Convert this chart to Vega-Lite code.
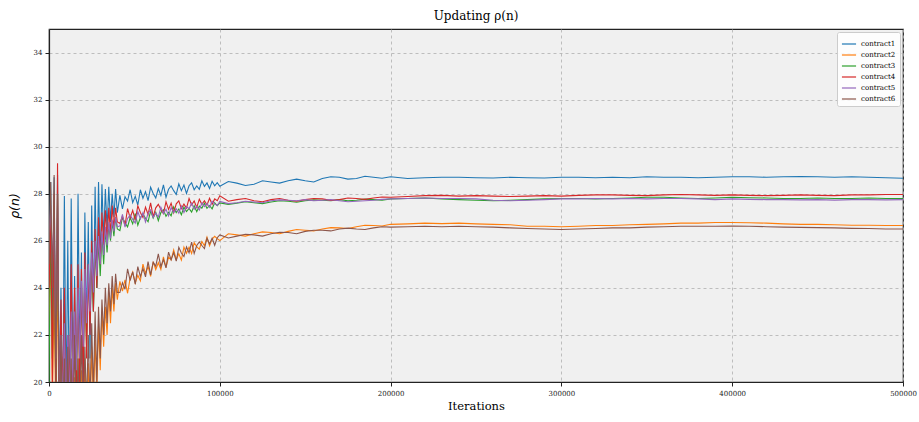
{
  "$schema": "https://vega.github.io/schema/vega-lite/v6.json",
  "width": 854,
  "height": 353,
  "autosize": "none",
  "padding": {"left": 49, "top": 29, "right": 16, "bottom": 40},
  "background": "white",
  "title": {"text": "Updating ρ(n)", "font": "DejaVu Serif", "fontSize": 12, "fontWeight": "normal", "color": "#000", "offset": 6, "anchor": "middle"},
  "config": {
    "view": {"fill": "#f0f0f0", "stroke": "#222", "strokeWidth": 1.2},
    "axis": {"labelFont": "DejaVu Serif", "labelFontSize": 7, "labelColor": "#222", "titleFont": "DejaVu Serif", "titleFontSize": 11.5, "titleFontWeight": "normal", "titleColor": "#000", "gridColor": "#b0b0b0", "gridDash": [3, 3], "gridWidth": 0.8, "domainColor": "#222", "tickColor": "#222", "tickSize": 4, "domainWidth": 1.2},
    "legend": {"labelFont": "DejaVu Serif", "labelFontSize": 7, "labelColor": "#000"}
  },
  "data": {"values": [
    {"x":0,"contract1":25,"contract2":22,"contract3":20,"contract4":24,"contract5":26,"contract6":25},
    {"x":1000,"contract1":28.5,"contract2":26,"contract3":27,"contract4":27,"contract5":27.5,"contract6":28.5},
    {"x":2000,"contract1":22,"contract2":19,"contract3":21,"contract4":20,"contract5":25,"contract6":24},
    {"x":3000,"contract1":28.7,"contract2":24,"contract3":27.5,"contract4":28,"contract5":27,"contract6":28.8},
    {"x":4000,"contract1":20,"contract2":18,"contract3":19,"contract4":19,"contract5":21,"contract6":20},
    {"x":5000,"contract1":28.8,"contract2":25,"contract3":28,"contract4":29.3,"contract5":27.5,"contract6":28},
    {"x":6000,"contract1":19,"contract2":17,"contract3":18,"contract4":18,"contract5":19,"contract6":18},
    {"x":7000,"contract1":24,"contract2":21,"contract3":22,"contract4":23.5,"contract5":22,"contract6":22},
    {"x":8000,"contract1":18,"contract2":17,"contract3":19,"contract4":19,"contract5":19,"contract6":18},
    {"x":9000,"contract1":27.9,"contract2":20.5,"contract3":23,"contract4":24,"contract5":22.5,"contract6":21},
    {"x":10000,"contract1":19,"contract2":16,"contract3":18,"contract4":18,"contract5":18.5,"contract6":17},
    {"x":11000,"contract1":26,"contract2":20,"contract3":21.5,"contract4":22,"contract5":22,"contract6":21.5},
    {"x":12000,"contract1":18,"contract2":17,"contract3":19,"contract4":19.5,"contract5":19,"contract6":17.5},
    {"x":13000,"contract1":27.8,"contract2":20.5,"contract3":23,"contract4":25,"contract5":23,"contract6":21},
    {"x":14000,"contract1":20,"contract2":16.5,"contract3":19.5,"contract4":19,"contract5":20,"contract6":17},
    {"x":15000,"contract1":24.5,"contract2":20.2,"contract3":22.5,"contract4":24,"contract5":23,"contract6":22},
    {"x":16000,"contract1":19,"contract2":17,"contract3":20,"contract4":20,"contract5":20.5,"contract6":18},
    {"x":17000,"contract1":28,"contract2":21,"contract3":23.5,"contract4":25,"contract5":24,"contract6":21},
    {"x":18000,"contract1":21,"contract2":17,"contract3":20.5,"contract4":19,"contract5":21,"contract6":18.5},
    {"x":19000,"contract1":25.5,"contract2":20.5,"contract3":24,"contract4":24.8,"contract5":24.3,"contract6":22},
    {"x":20000,"contract1":19,"contract2":17.5,"contract3":21,"contract4":20,"contract5":21.5,"contract6":18},
    {"x":21000,"contract1":27.2,"contract2":21,"contract3":24.5,"contract4":25.5,"contract5":24.8,"contract6":21.5},
    {"x":22000,"contract1":22,"contract2":18,"contract3":21.5,"contract4":21,"contract5":22.5,"contract6":19},
    {"x":23000,"contract1":26.8,"contract2":20.8,"contract3":25,"contract4":25,"contract5":25,"contract6":22},
    {"x":24000,"contract1":21,"contract2":18.5,"contract3":22.5,"contract4":22,"contract5":23,"contract6":19},
    {"x":25000,"contract1":27.5,"contract2":21.5,"contract3":25.2,"contract4":26,"contract5":25.5,"contract6":22.5},
    {"x":26000,"contract1":23,"contract2":19,"contract3":23,"contract4":23,"contract5":23.8,"contract6":19.5},
    {"x":27000,"contract1":28.3,"contract2":21.8,"contract3":25.8,"contract4":26.5,"contract5":26,"contract6":23},
    {"x":28000,"contract1":24,"contract2":19.5,"contract3":24,"contract4":24,"contract5":24.5,"contract6":20},
    {"x":29000,"contract1":28.5,"contract2":22.5,"contract3":26,"contract4":27,"contract5":26.2,"contract6":23.2},
    {"x":30000,"contract1":25,"contract2":20.5,"contract3":24.5,"contract4":25,"contract5":25,"contract6":21},
    {"x":31000,"contract1":28.4,"contract2":23,"contract3":26.3,"contract4":27.2,"contract5":26.4,"contract6":23.5},
    {"x":32000,"contract1":26,"contract2":21.5,"contract3":25,"contract4":25.8,"contract5":25.4,"contract6":22},
    {"x":33000,"contract1":28.2,"contract2":23.2,"contract3":26.5,"contract4":27.3,"contract5":26.6,"contract6":24},
    {"x":34000,"contract1":26.5,"contract2":22,"contract3":25.5,"contract4":26,"contract5":25.8,"contract6":22.5},
    {"x":35000,"contract1":28.3,"contract2":23.8,"contract3":26.7,"contract4":27.4,"contract5":26.8,"contract6":24.2},
    {"x":36000,"contract1":26.8,"contract2":22.5,"contract3":26,"contract4":26.3,"contract5":26.1,"contract6":23},
    {"x":37000,"contract1":28,"contract2":24,"contract3":26.8,"contract4":27.5,"contract5":26.9,"contract6":24.5},
    {"x":38000,"contract1":27,"contract2":23,"contract3":26.2,"contract4":26.5,"contract5":26.4,"contract6":23.3},
    {"x":39000,"contract1":28.2,"contract2":24.2,"contract3":27,"contract4":27.4,"contract5":27,"contract6":24.6},
    {"x":40000,"contract1":27.2,"contract2":23.5,"contract3":26.5,"contract4":26.8,"contract5":26.6,"contract6":23.8},
    {"x":41500,"contract1":27.93,"contract2":24.28,"contract3":26.43,"contract4":26.74,"contract5":26.63,"contract6":23.8},
    {"x":43000,"contract1":27.36,"contract2":23.86,"contract3":26.99,"contract4":27.05,"contract5":27.12,"contract6":24.22},
    {"x":44500,"contract1":27.87,"contract2":24.34,"contract3":26.76,"contract4":26.65,"contract5":26.58,"contract6":23.94},
    {"x":46000,"contract1":27.69,"contract2":23.77,"contract3":26.59,"contract4":27.37,"contract5":26.95,"contract6":24.81},
    {"x":47500,"contract1":28.17,"contract2":24.41,"contract3":26.98,"contract4":26.97,"contract5":27.1,"contract6":24.31},
    {"x":49000,"contract1":27.62,"contract2":24.67,"contract3":26.72,"contract4":27.29,"contract5":26.91,"contract6":24.68},
    {"x":50500,"contract1":27.89,"contract2":24.2,"contract3":27.16,"contract4":26.87,"contract5":26.75,"contract6":24.16},
    {"x":52000,"contract1":27.52,"contract2":24.54,"contract3":26.66,"contract4":27.49,"contract5":27.24,"contract6":24.9},
    {"x":53500,"contract1":28.17,"contract2":24.3,"contract3":26.99,"contract4":27.2,"contract5":26.93,"contract6":24.48},
    {"x":55000,"contract1":27.81,"contract2":25.01,"contract3":27.14,"contract4":26.99,"contract5":27.19,"contract6":24.83},
    {"x":56500,"contract1":28.09,"contract2":24.61,"contract3":26.96,"contract4":27.43,"contract5":26.8,"contract6":24.47},
    {"x":58000,"contract1":27.71,"contract2":24.92,"contract3":26.81,"contract4":27.12,"contract5":27.17,"contract6":25.12},
    {"x":59500,"contract1":28.28,"contract2":24.49,"contract3":27.26,"contract4":27.61,"contract5":27.31,"contract6":24.55},
    {"x":61000,"contract1":28.01,"contract2":25.11,"contract3":26.97,"contract4":27.02,"contract5":26.99,"contract6":25.09},
    {"x":62500,"contract1":27.82,"contract2":24.78,"contract3":27.21,"contract4":27.4,"contract5":27.18,"contract6":24.92},
    {"x":64000,"contract1":28.22,"contract2":25.07,"contract3":26.86,"contract4":27.55,"contract5":27.01,"contract6":25.44},
    {"x":65500,"contract1":27.93,"contract2":24.78,"contract3":27.2,"contract4":27.33,"contract5":27.43,"contract6":24.9},
    {"x":67000,"contract1":28.38,"contract2":25.32,"contract3":27.32,"contract4":27.16,"contract5":27.16,"contract6":25.2},
    {"x":68500,"contract1":27.85,"contract2":24.87,"contract3":27.04,"contract4":27.66,"contract5":27.34,"contract6":24.85},
    {"x":70000,"contract1":28.19,"contract2":25.31,"contract3":27.21,"contract4":27.33,"contract5":27.06,"contract6":25.52},
    {"x":71500,"contract1":28.33,"contract2":25.19,"contract3":27.06,"contract4":27.6,"contract5":27.42,"contract6":25.19},
    {"x":73000,"contract1":28.13,"contract2":25.61,"contract3":27.44,"contract4":27.19,"contract5":27.2,"contract6":25.5},
    {"x":74500,"contract1":27.97,"contract2":25.2,"contract3":27.2,"contract4":27.57,"contract5":27.36,"contract6":25.14},
    {"x":76000,"contract1":28.42,"contract2":25.45,"contract3":27.35,"contract4":27.7,"contract5":27.17,"contract6":25.72},
    {"x":77500,"contract1":28.13,"contract2":25.18,"contract3":27.11,"contract4":27.37,"contract5":27.48,"contract6":25.48},
    {"x":79000,"contract1":28.37,"contract2":25.73,"contract3":27.43,"contract4":27.56,"contract5":27.2,"contract6":25.33},
    {"x":80500,"contract1":28.01,"contract2":25.47,"contract3":27.24,"contract4":27.39,"contract5":27.45,"contract6":25.74},
    {"x":82000,"contract1":28.34,"contract2":25.73,"contract3":27.38,"contract4":27.8,"contract5":27.36,"contract6":25.49},
    {"x":83500,"contract1":28.46,"contract2":25.46,"contract3":27.22,"contract4":27.53,"contract5":27.6,"contract6":25.94},
    {"x":85000,"contract1":28.17,"contract2":25.92,"contract3":27.49,"contract4":27.69,"contract5":27.34,"contract6":25.46},
    {"x":86500,"contract1":28.33,"contract2":25.75,"contract3":27.24,"contract4":27.42,"contract5":27.47,"contract6":25.8},
    {"x":88000,"contract1":28.19,"contract2":25.64,"contract3":27.47,"contract4":27.77,"contract5":27.31,"contract6":25.95},
    {"x":89500,"contract1":28.55,"contract2":25.97,"contract3":27.39,"contract4":27.55,"contract5":27.61,"contract6":25.8},
    {"x":91000,"contract1":28.31,"contract2":25.79,"contract3":27.6,"contract4":27.7,"contract5":27.45,"contract6":25.67},
    {"x":92500,"contract1":28.46,"contract2":26.15,"contract3":27.38,"contract4":27.52,"contract5":27.59,"contract6":26.11},
    {"x":94000,"contract1":28.22,"contract2":25.79,"contract3":27.5,"contract4":27.81,"contract5":27.42,"contract6":25.87},
    {"x":95500,"contract1":28.53,"contract2":26.07,"contract3":27.36,"contract4":27.55,"contract5":27.68,"contract6":26.11},
    {"x":97000,"contract1":28.34,"contract2":26.19,"contract3":27.62,"contract4":27.78,"contract5":27.57,"contract6":25.81},
    {"x":98500,"contract1":28.47,"contract2":26.09,"contract3":27.49,"contract4":27.7,"contract5":27.5,"contract6":26.13},
    {"x":100000,"contract1":28.32,"contract2":26.01,"contract3":27.61,"contract4":27.91,"contract5":27.67,"contract6":26.25},
    {"x":105000,"contract1":28.52,"contract2":26.3,"contract3":27.55,"contract4":27.68,"contract5":27.58,"contract6":26.12},
    {"x":110000,"contract1":28.45,"contract2":26.25,"contract3":27.6,"contract4":27.75,"contract5":27.62,"contract6":26.2},
    {"x":115000,"contract1":28.35,"contract2":26.2,"contract3":27.66,"contract4":27.8,"contract5":27.68,"contract6":26.28},
    {"x":120000,"contract1":28.4,"contract2":26.3,"contract3":27.62,"contract4":27.7,"contract5":27.65,"contract6":26.25},
    {"x":125000,"contract1":28.55,"contract2":26.38,"contract3":27.58,"contract4":27.66,"contract5":27.62,"contract6":26.2},
    {"x":130000,"contract1":28.5,"contract2":26.35,"contract3":27.65,"contract4":27.75,"contract5":27.7,"contract6":26.3},
    {"x":135000,"contract1":28.45,"contract2":26.3,"contract3":27.7,"contract4":27.8,"contract5":27.74,"contract6":26.36},
    {"x":140000,"contract1":28.55,"contract2":26.4,"contract3":27.68,"contract4":27.72,"contract5":27.72,"contract6":26.35},
    {"x":145000,"contract1":28.62,"contract2":26.48,"contract3":27.64,"contract4":27.68,"contract5":27.7,"contract6":26.3},
    {"x":150000,"contract1":28.55,"contract2":26.45,"contract3":27.7,"contract4":27.75,"contract5":27.75,"contract6":26.4},
    {"x":155000,"contract1":28.5,"contract2":26.42,"contract3":27.74,"contract4":27.8,"contract5":27.7,"contract6":26.45},
    {"x":160000,"contract1":28.65,"contract2":26.5,"contract3":27.72,"contract4":27.78,"contract5":27.72,"contract6":26.45},
    {"x":165000,"contract1":28.72,"contract2":26.56,"contract3":27.7,"contract4":27.72,"contract5":27.75,"contract6":26.42},
    {"x":170000,"contract1":28.7,"contract2":26.55,"contract3":27.75,"contract4":27.75,"contract5":27.7,"contract6":26.5},
    {"x":175000,"contract1":28.62,"contract2":26.52,"contract3":27.7,"contract4":27.82,"contract5":27.66,"contract6":26.54},
    {"x":180000,"contract1":28.65,"contract2":26.6,"contract3":27.72,"contract4":27.8,"contract5":27.68,"contract6":26.5},
    {"x":185000,"contract1":28.74,"contract2":26.66,"contract3":27.77,"contract4":27.76,"contract5":27.7,"contract6":26.48},
    {"x":190000,"contract1":28.7,"contract2":26.65,"contract3":27.75,"contract4":27.82,"contract5":27.72,"contract6":26.55},
    {"x":195000,"contract1":28.66,"contract2":26.63,"contract3":27.73,"contract4":27.86,"contract5":27.76,"contract6":26.6},
    {"x":200000,"contract1":28.72,"contract2":26.7,"contract3":27.78,"contract4":27.85,"contract5":27.78,"contract6":26.58},
    {"x":210000,"contract1":28.65,"contract2":26.72,"contract3":27.8,"contract4":27.88,"contract5":27.8,"contract6":26.6},
    {"x":220000,"contract1":28.68,"contract2":26.75,"contract3":27.82,"contract4":27.92,"contract5":27.82,"contract6":26.62},
    {"x":230000,"contract1":28.7,"contract2":26.73,"contract3":27.78,"contract4":27.93,"contract5":27.8,"contract6":26.6},
    {"x":240000,"contract1":28.7,"contract2":26.75,"contract3":27.75,"contract4":27.9,"contract5":27.8,"contract6":26.62},
    {"x":250000,"contract1":28.68,"contract2":26.72,"contract3":27.72,"contract4":27.92,"contract5":27.78,"contract6":26.6},
    {"x":260000,"contract1":28.67,"contract2":26.7,"contract3":27.7,"contract4":27.9,"contract5":27.72,"contract6":26.58},
    {"x":270000,"contract1":28.7,"contract2":26.68,"contract3":27.72,"contract4":27.88,"contract5":27.7,"contract6":26.55},
    {"x":280000,"contract1":28.68,"contract2":26.62,"contract3":27.75,"contract4":27.9,"contract5":27.72,"contract6":26.52},
    {"x":290000,"contract1":28.67,"contract2":26.62,"contract3":27.78,"contract4":27.92,"contract5":27.75,"contract6":26.5},
    {"x":300000,"contract1":28.7,"contract2":26.6,"contract3":27.8,"contract4":27.9,"contract5":27.78,"contract6":26.48},
    {"x":310000,"contract1":28.7,"contract2":26.62,"contract3":27.8,"contract4":27.93,"contract5":27.78,"contract6":26.5},
    {"x":320000,"contract1":28.68,"contract2":26.65,"contract3":27.78,"contract4":27.95,"contract5":27.8,"contract6":26.52},
    {"x":330000,"contract1":28.7,"contract2":26.65,"contract3":27.8,"contract4":27.95,"contract5":27.78,"contract6":26.55},
    {"x":340000,"contract1":28.68,"contract2":26.68,"contract3":27.82,"contract4":27.93,"contract5":27.8,"contract6":26.55},
    {"x":350000,"contract1":28.72,"contract2":26.7,"contract3":27.85,"contract4":27.92,"contract5":27.78,"contract6":26.58},
    {"x":360000,"contract1":28.7,"contract2":26.72,"contract3":27.85,"contract4":27.95,"contract5":27.8,"contract6":26.6},
    {"x":370000,"contract1":28.7,"contract2":26.75,"contract3":27.82,"contract4":27.97,"contract5":27.8,"contract6":26.62},
    {"x":380000,"contract1":28.68,"contract2":26.75,"contract3":27.8,"contract4":27.95,"contract5":27.78,"contract6":26.62},
    {"x":390000,"contract1":28.7,"contract2":26.78,"contract3":27.82,"contract4":27.93,"contract5":27.75,"contract6":26.62},
    {"x":400000,"contract1":28.72,"contract2":26.78,"contract3":27.85,"contract4":27.95,"contract5":27.78,"contract6":26.63},
    {"x":410000,"contract1":28.72,"contract2":26.77,"contract3":27.83,"contract4":27.93,"contract5":27.76,"contract6":26.62},
    {"x":420000,"contract1":28.7,"contract2":26.75,"contract3":27.82,"contract4":27.92,"contract5":27.75,"contract6":26.6},
    {"x":430000,"contract1":28.72,"contract2":26.72,"contract3":27.8,"contract4":27.93,"contract5":27.75,"contract6":26.58},
    {"x":440000,"contract1":28.73,"contract2":26.7,"contract3":27.8,"contract4":27.95,"contract5":27.74,"contract6":26.57},
    {"x":450000,"contract1":28.72,"contract2":26.7,"contract3":27.82,"contract4":27.93,"contract5":27.75,"contract6":26.56},
    {"x":460000,"contract1":28.7,"contract2":26.68,"contract3":27.8,"contract4":27.92,"contract5":27.73,"contract6":26.55},
    {"x":470000,"contract1":28.72,"contract2":26.66,"contract3":27.8,"contract4":27.95,"contract5":27.75,"contract6":26.53},
    {"x":480000,"contract1":28.7,"contract2":26.66,"contract3":27.82,"contract4":27.95,"contract5":27.75,"contract6":26.52},
    {"x":490000,"contract1":28.68,"contract2":26.65,"contract3":27.8,"contract4":27.97,"contract5":27.74,"contract6":26.5},
    {"x":500000,"contract1":28.66,"contract2":26.65,"contract3":27.8,"contract4":27.97,"contract5":27.75,"contract6":26.5}
  ]},
  "transform": [
    {"fold": ["contract1", "contract2", "contract3", "contract4", "contract5", "contract6"], "as": ["contract", "rho"]}
  ],
  "mark": {"type": "line", "clip": true, "strokeWidth": 1.1},
  "encoding": {
    "x": {"field": "x", "type": "quantitative", "title": "Iterations",
      "scale": {"domain": [0, 500000], "nice": false, "zero": false},
      "axis": {"values": [0, 100000, 200000, 300000, 400000, 500000], "format": "d", "labelPadding": 3, "titlePadding": 4, "labelFlush": false}},
    "y": {"field": "rho", "type": "quantitative", "title": "ρ(n)",
      "scale": {"domain": [20, 35], "nice": false, "zero": false},
      "axis": {"values": [20, 22, 24, 26, 28, 30, 32, 34], "titleFont": "DejaVu Sans", "titleFontStyle": "italic", "titleFontSize": 12.5, "titlePadding": 12, "labelPadding": 3}},
    "color": {"field": "contract", "type": "nominal",
      "scale": {"domain": ["contract1", "contract2", "contract3", "contract4", "contract5", "contract6"], "range": ["#1f77b4", "#ff7f0e", "#2ca02c", "#d62728", "#9467bd", "#8c564b"]},
      "legend": {"title": null, "orient": "top-right", "offset": 3, "symbolType": "stroke", "symbolSize": 200, "symbolStrokeWidth": 1.2, "rowPadding": -4, "padding": 4, "fillColor": "rgba(255,255,255,0.85)", "strokeColor": "#cccccc", "cornerRadius": 2, "labelOffset": 4}}
  }
}
